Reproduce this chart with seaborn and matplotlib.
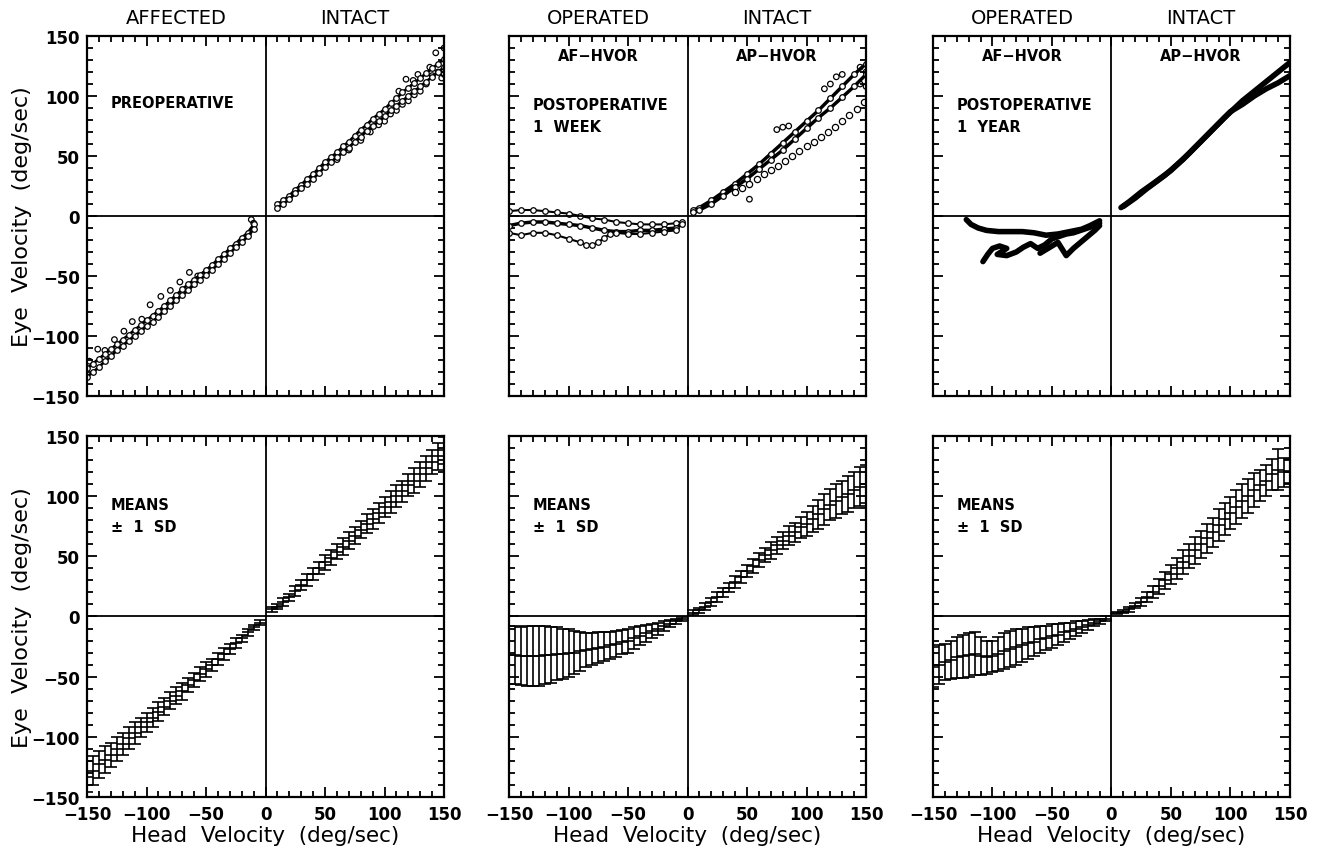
"""
Eye velocity vs head velocity, pre- and postoperative (AF-HVOR / AP-HVOR).
Top row: raw sample traces. Bottom row: means +/- 1 SD per 5 deg/sec bin.
"""

import matplotlib
matplotlib.use("Agg")
import matplotlib.pyplot as plt
import seaborn as sns
from matplotlib.ticker import MultipleLocator

# ---------------------------- DATA -----------------------------------

# --- preoperative raw traces (top-left) ---
PRE_NEG_X = [-150, -145, -140, -135, -130, -125, -120, -115, -110, -105, -100, -95, -90, -85, -80,
             -75, -70, -65, -60, -55, -50, -45, -40, -35, -30, -25, -20, -15, -10]
PRE_NEG_A = [-127, -123, -119, -115, -111, -107, -103, -99, -95, -91, -87, -83, -79, -75, -70,
             -66, -61, -57, -53, -49, -45, -41, -36, -32, -27, -23, -18, -14, -7]
PRE_NEG_B = [-134, -130, -126, -121, -117, -112, -108, -104, -100, -96, -92, -88, -84, -79, -75,
             -70, -66, -62, -57, -53, -49, -45, -40, -36, -31, -26, -22, -17, -11]
PRE_NEG_OUT_X = [-148, -141, -135, -127, -119, -112, -104, -97, -88, -80, -72, -64, -57, -12, -10]
PRE_NEG_OUT_Y = [-121, -111, -112, -103, -96, -88, -86, -74, -67, -62, -55, -47, -50, -3, -6]

PRE_POS_X = [10, 15, 20, 25, 30, 35, 40, 45, 50, 55, 60, 65, 70, 75, 80,
             85, 90, 95, 100, 105, 110, 115, 120, 125, 130, 135, 140, 145, 150]
PRE_POS_A = [10, 13, 17, 22, 26, 31, 35, 40, 45, 49, 53, 58, 62, 67, 72,
             76, 81, 85, 89, 94, 98, 103, 107, 111, 115, 119, 123, 127, 131]
PRE_POS_B = [7, 10, 14, 19, 23, 27, 31, 36, 41, 45, 49, 53, 57, 62, 66,
             71, 75, 79, 83, 88, 92, 96, 100, 104, 108, 112, 116, 120, 124]
PRE_POS_OUT_X = [60, 70, 80, 88, 95, 100, 105, 110, 115, 120, 125, 130, 135, 140, 145, 148, 150,
                 118, 128, 138, 143, 150, 112, 124]
PRE_POS_OUT_Y = [47, 55, 63, 70, 76, 79, 85, 88, 93, 96, 101, 104, 110, 117, 120, 115, 118,
                 114, 118, 124, 136, 140, 104, 113]

# --- postoperative 1 week raw traces (top-middle) ---
WK_NEG_A_X = [-150, -140, -130, -120, -110, -100, -90, -80, -70, -60, -50, -40, -30, -20, -10, -5]
WK_NEG_A_Y = [4, 5, 5, 4, 3, 2, 0, -2, -3, -5, -6, -7, -7, -7, -6, -5]
WK_NEG_B_X = [-150, -140, -130, -120, -110, -100, -90, -80, -70, -60, -50, -40, -30, -20, -10, -5]
WK_NEG_B_Y = [-8, -6, -5, -5, -6, -7, -8, -10, -12, -13, -13, -12, -12, -11, -10, -7]
WK_NEG_C_X = [-150, -140, -130, -120, -110, -100, -90, -85, -80, -75, -70, -65, -60, -50, -40, -30, -20, -10]
WK_NEG_C_Y = [-14, -16, -14, -14, -16, -19, -22, -24, -24, -22, -18, -15, -14, -15, -15, -14, -13, -12]

WK_POS_A_X = [5, 10, 20, 30, 40, 50, 60, 70, 80, 90, 100, 110, 120, 130, 140, 150]
WK_POS_A_Y = [5, 7, 13, 20, 27, 35, 43, 52, 61, 70, 79, 88, 98, 108, 118, 127]
WK_POS_B_X = [5, 10, 20, 30, 40, 50, 60, 70, 80, 90, 100, 110, 120, 130, 140, 150]
WK_POS_B_Y = [3, 5, 10, 17, 24, 31, 39, 47, 55, 64, 73, 82, 90, 99, 108, 118]
WK_POS_C_X = [40, 46, 52, 58, 64, 70, 76, 82, 88, 94, 100, 106, 112, 118, 124, 130, 136, 142, 148]
WK_POS_C_Y = [20, 23, 27, 31, 35, 38, 42, 46, 50, 54, 58, 62, 66, 70, 74, 79, 84, 89, 95]
WK_POS_OUT_X = [75, 80, 85, 120, 125, 130, 145, 150, 145, 150, 52, 115]
WK_POS_OUT_Y = [72, 74, 75, 110, 116, 118, 124, 120, 110, 108, 14, 106]

# --- postoperative 1 year raw traces (top-right) ---
YR_NEG_A_X = [-122, -118, -112, -105, -95, -85, -75, -65, -55, -45, -35, -25, -18, -12, -10]
YR_NEG_A_Y = [-3, -7, -10, -12, -13, -13, -13, -14, -16, -15, -13, -11, -8, -5, -4]
YR_NEG_B_X = [-108, -104, -100, -94, -88, -96, -88, -80, -74, -68, -62, -56, -50, -44, -38,
              -32, -26, -20, -14, -10]
YR_NEG_B_Y = [-38, -32, -27, -25, -27, -32, -33, -30, -26, -23, -27, -24, -19, -17, -15,
              -14, -12, -10, -8, -6]
YR_NEG_C_X = [-60, -50, -45, -38, -32, -26, -20, -14, -10]
YR_NEG_C_Y = [-31, -25, -22, -33, -27, -22, -17, -12, -8]

YR_POS_A_X = [8, 15, 25, 35, 50, 65, 80, 95, 110, 125, 140, 150]
YR_POS_A_Y = [7, 12, 20, 27, 38, 52, 67, 82, 96, 108, 120, 128]
YR_POS_B_X = [10, 20, 30, 45, 60, 75, 90, 100, 110, 120, 130, 140, 150]
YR_POS_B_Y = [8, 15, 23, 34, 47, 62, 77, 87, 93, 100, 106, 111, 117]

# --- binned means +/- 1 SD (bottom row) ---
BIN_NEG = [-150, -145, -140, -135, -130, -125, -120, -115, -110, -105, -100, -95, -90, -85, -80,
           -75, -70, -65, -60, -55, -50, -45, -40, -35, -30, -25, -20, -15, -10, -5]
BIN_POS = [5, 10, 15, 20, 25, 30, 35, 40, 45, 50, 55, 60, 65, 70, 75,
           80, 85, 90, 95, 100, 105, 110, 115, 120, 125, 130, 135, 140, 145, 150]

PRE_MEAN_NEG = [-133, -128, -123, -119, -115, -110, -106, -101, -97, -92, -88, -84, -79, -75, -70,
                -66, -62, -57, -53, -48, -44, -40, -35, -31, -27, -22, -18, -13, -9, -5]
PRE_SD_NEG = [13, 12, 11, 11, 10, 10, 9, 9, 9, 8, 8, 8, 8, 7, 7,
              7, 7, 6, 6, 6, 6, 5, 5, 5, 4, 4, 3, 3, 2, 2]
PRE_MEAN_POS = [6, 8, 12, 16, 21, 26, 30, 35, 40, 45, 49, 54, 58, 63, 67,
                72, 77, 81, 86, 91, 95, 100, 104, 109, 113, 118, 123, 128, 133, 138]
PRE_SD_POS = [2, 2, 3, 3, 4, 4, 5, 5, 5, 6, 6, 6, 7, 7, 7,
              7, 8, 8, 8, 8, 9, 9, 9, 9, 10, 10, 10, 10, 11, 11]

WK_MEAN_NEG = [-32, -32, -33, -33, -33, -33, -32, -32, -31, -31, -30, -30, -29, -28, -27,
               -26, -25, -24, -23, -21, -20, -18, -16, -14, -12, -10, -8, -6, -4, -2]
WK_SD_NEG = [24, 24, 24, 25, 25, 25, 24, 23, 22, 21, 20, 18, 16, 14, 13,
             13, 12, 11, 11, 10, 10, 9, 8, 7, 6, 5, 4, 3, 2, 1.5]
WK_MEAN_POS = [3, 5, 8, 12, 16, 20, 24, 29, 33, 38, 42, 47, 51, 55, 59,
               63, 67, 70, 74, 77, 81, 85, 89, 93, 96, 99, 102, 105, 108, 110]
WK_SD_POS = [2, 2, 3, 3, 4, 4, 4, 5, 5, 5, 6, 6, 6, 7, 7,
             7, 8, 8, 9, 10, 11, 12, 13, 13, 14, 14, 15, 15, 16, 16]

YR_MEAN_NEG = [-42, -40, -38, -36, -34, -33, -32, -31, -33, -34, -33, -31, -29, -27, -25,
               -24, -22, -21, -19, -18, -16, -15, -13, -12, -10, -9, -7, -5, -4, -2]
YR_SD_NEG = [17, 16, 15, 16, 17, 18, 18, 18, 16, 14, 13, 14, 15, 15, 15,
             14, 13, 12, 11, 10, 10, 9, 8, 7, 6, 5, 4, 3, 2, 2]
YR_MEAN_POS = [3, 4, 6, 9, 12, 16, 20, 25, 30, 35, 40, 45, 50, 55, 60,
               65, 70, 76, 81, 86, 91, 96, 100, 105, 109, 113, 118, 122, 120, 121]
YR_SD_POS = [1, 1, 2, 2, 3, 4, 5, 6, 7, 8, 9, 10, 10, 11, 11,
             12, 12, 13, 13, 13, 14, 14, 14, 14, 13, 13, 13, 17, 12, 10]

HEADERS = [("AFFECTED", "INTACT"), ("OPERATED", "INTACT"), ("OPERATED", "INTACT")]
TOP_NOTES = ["PREOPERATIVE", "POSTOPERATIVE\n1  WEEK", "POSTOPERATIVE\n1  YEAR"]
XLABEL = "Head  Velocity  (deg/sec)"
YLABEL = "Eye  Velocity  (deg/sec)"

# ---------------------------- STYLE ----------------------------------

sns.set_theme(style="ticks")
plt.rcParams["font.family"] = ["DejaVu Sans"]
plt.rcParams["axes.linewidth"] = 1.6
plt.rcParams["axes.edgecolor"] = "black"
plt.rcParams["text.color"] = "black"
plt.rcParams["axes.labelcolor"] = "black"
plt.rcParams["xtick.color"] = "black"
plt.rcParams["ytick.color"] = "black"

INK = "black"


def trace(ax, x, y, lw=2.5, ms=4.0, marker="o"):
    """Raw sample trace: thick line with open circles on top."""
    sns.lineplot(x=x, y=y, ax=ax, sort=False, estimator=None, color=INK, lw=lw,
                 marker=marker, markersize=ms, markerfacecolor="white",
                 markeredgecolor=INK, markeredgewidth=0.9)


def dots(ax, x, y):
    sns.scatterplot(x=x, y=y, ax=ax, marker="o", s=16, facecolor="none",
                    edgecolor=INK, linewidth=0.9)


def bars(ax, x, mean, sd):
    ax.errorbar(x, mean, yerr=sd, fmt="_", color=INK, ms=8, mew=1.2,
                elinewidth=1.2, capsize=4, capthick=1.2)


def style_axes(ax, row, col):
    ax.set_xlim(-150, 150)
    ax.set_ylim(-150, 150)
    ax.axhline(0, color=INK, lw=1.3)
    ax.axvline(0, color=INK, lw=1.3)
    ax.xaxis.set_major_locator(MultipleLocator(50))
    ax.xaxis.set_minor_locator(MultipleLocator(10))
    ax.yaxis.set_major_locator(MultipleLocator(50))
    ax.yaxis.set_minor_locator(MultipleLocator(10))
    ax.tick_params(which="both", direction="in", top=True, right=True, color=INK, width=1.3)
    ax.tick_params(which="major", length=7, labelsize=12)
    ax.tick_params(axis="x", which="major", pad=6)
    ax.tick_params(axis="y", which="major", pad=5)
    ax.tick_params(which="minor", length=4)
    for lab in ax.get_xticklabels() + ax.get_yticklabels():
        lab.set_fontweight("bold")
    ax.set_xlabel("")
    ax.set_ylabel("")
    if row == 0:
        ax.tick_params(labelbottom=False)
    else:
        ax.set_xlabel(XLABEL, fontsize=15.5, labelpad=1)
    if col != 0:
        ax.tick_params(labelleft=False)
    else:
        ax.set_ylabel(YLABEL, fontsize=16, labelpad=0)
    for sp in ax.spines.values():
        sp.set_visible(True)


# ---------------------------- FIGURE ---------------------------------

fig = plt.figure(figsize=(13.17, 8.53), dpi=100)
lefts = [0.0661, 0.3865, 0.7084]
width = 0.2711
axes = [[fig.add_axes([l, 0.5346, width, 0.422]) for l in lefts],
        [fig.add_axes([l, 0.0645, width, 0.4232]) for l in lefts]]

# top row: raw traces
ax = axes[0][0]
trace(ax, PRE_NEG_X, PRE_NEG_A, lw=2.0)
trace(ax, PRE_NEG_X, PRE_NEG_B, lw=2.0)
dots(ax, PRE_NEG_OUT_X, PRE_NEG_OUT_Y)
trace(ax, PRE_POS_X, PRE_POS_A, lw=2.0)
trace(ax, PRE_POS_X, PRE_POS_B, lw=2.0)
dots(ax, PRE_POS_OUT_X, PRE_POS_OUT_Y)

ax = axes[0][1]
trace(ax, WK_NEG_A_X, WK_NEG_A_Y, lw=1.5)
trace(ax, WK_NEG_B_X, WK_NEG_B_Y, lw=2.5)
trace(ax, WK_NEG_C_X, WK_NEG_C_Y, lw=1.5)
trace(ax, WK_POS_A_X, WK_POS_A_Y, lw=2.5)
trace(ax, WK_POS_B_X, WK_POS_B_Y, lw=2.5)
trace(ax, WK_POS_C_X, WK_POS_C_Y, lw=0.0, ms=4.5)
dots(ax, WK_POS_OUT_X, WK_POS_OUT_Y)

ax = axes[0][2]
for xs, ys in [(YR_NEG_A_X, YR_NEG_A_Y), (YR_NEG_B_X, YR_NEG_B_Y), (YR_NEG_C_X, YR_NEG_C_Y),
               (YR_POS_A_X, YR_POS_A_Y), (YR_POS_B_X, YR_POS_B_Y)]:
    sns.lineplot(x=xs, y=ys, ax=ax, sort=False, estimator=None, color=INK, lw=4.0,
                 solid_capstyle="round", solid_joinstyle="round")

# bottom row: means +/- 1 SD
bars(axes[1][0], BIN_NEG, PRE_MEAN_NEG, PRE_SD_NEG)
bars(axes[1][0], BIN_POS, PRE_MEAN_POS, PRE_SD_POS)
bars(axes[1][1], BIN_NEG, WK_MEAN_NEG, WK_SD_NEG)
bars(axes[1][1], BIN_POS, WK_MEAN_POS, WK_SD_POS)
bars(axes[1][2], BIN_NEG, YR_MEAN_NEG, YR_SD_NEG)
bars(axes[1][2], BIN_POS, YR_MEAN_POS, YR_SD_POS)

for r in range(2):
    for c in range(3):
        style_axes(axes[r][c], r, c)

# headers and notes
for c, (left_h, right_h) in enumerate(HEADERS):
    ax = axes[0][c]
    ax.text(0.25, 1.025, left_h, transform=ax.transAxes, ha="center", va="bottom", fontsize=14)
    ax.text(0.75, 1.025, right_h, transform=ax.transAxes, ha="center", va="bottom", fontsize=14)
    if c == 0:
        ax.text(-130, 95, TOP_NOTES[c], ha="left", va="center", fontsize=10.5, fontweight="bold")
    else:
        ax.text(-75, 134, "AF\u2212HVOR", ha="center", va="center", fontsize=10.5, fontweight="bold")
        ax.text(75, 134, "AP\u2212HVOR", ha="center", va="center", fontsize=10.5, fontweight="bold")
        ax.text(-130, 84, TOP_NOTES[c], ha="left", va="center", fontsize=10.5,
                fontweight="bold", linespacing=1.6)
    axb = axes[1][c]
    axb.text(-130, 84, "MEANS\n\u00b1  1  SD", ha="left", va="center", fontsize=10.5,
             fontweight="bold", linespacing=1.6)

fig.savefig("out.png", dpi=100, facecolor="white")
